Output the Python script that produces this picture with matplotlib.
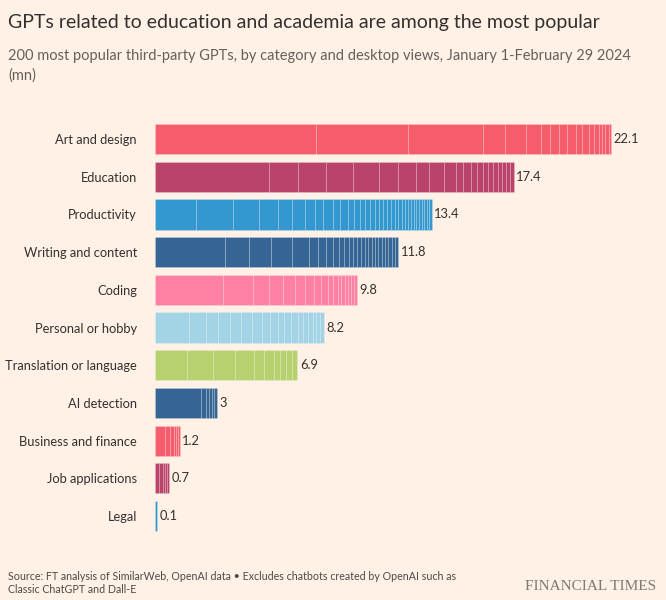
import matplotlib.pyplot as plt

# Categories (top to bottom) and the views (mn) of the individual GPTs in each
categories = ['Art and design', 'Education', 'Productivity', 'Writing and content',
              'Coding', 'Personal or hobby', 'Translation or language',
              'AI detection', 'Business and finance', 'Job applications', 'Legal']
totals = [22.1, 17.4, 13.4, 11.8, 9.8, 8.2, 6.9, 3, 1.2, 0.7, 0.1]

art = [7.8, 4.45, 3.65, 1.05, 1.05, 0.7, 0.45, 0.42, 0.42, 0.4, 0.32, 0.32,
       0.25, 0.24, 0.16, 0.16, 0.16, 0.1]
education = [5.54, 1.41, 1.33, 1.34, 1.26, 0.92, 0.84, 0.66, 0.71, 0.58, 0.35,
             0.36, 0.29, 0.29, 0.27, 0.24, 0.24, 0.21, 0.19, 0.19, 0.18]
productivity = [2.0, 1.78, 1.26, 0.94, 0.65, 0.65, 0.47, 0.42, 0.44, 0.36, 0.40,
                0.29, 0.27, 0.26, 0.23, 0.23, 0.23, 0.19, 0.19, 0.19, 0.19,
                0.16, 0.16, 0.16, 0.16, 0.13, 0.13, 0.13, 0.13, 0.13, 0.13,
                0.13, 0.11, 0.11]
writing = [3.39, 1.16, 1.07, 1.0, 0.86, 0.44, 0.37, 0.36, 0.27, 0.24, 0.24,
           0.21, 0.19, 0.19, 0.18, 0.18, 0.16, 0.16, 0.16, 0.16, 0.16, 0.16,
           0.16, 0.16, 0.17]
coding = [3.3, 1.47, 0.78, 0.68, 0.57, 0.48, 0.44, 0.34, 0.32, 0.24, 0.23,
          0.18, 0.16, 0.16, 0.15, 0.15, 0.15]
personal = [1.67, 0.78, 0.6, 0.61, 0.52, 0.53, 0.47, 0.4, 0.37, 0.32, 0.32,
            0.32, 0.29, 0.23, 0.21, 0.19, 0.19, 0.18]
translation = [1.53, 1.29, 1.05, 0.92, 0.48, 0.48, 0.32, 0.29, 0.27, 0.27]
ai_detection = [2.21, 0.26, 0.16, 0.13, 0.12, 0.12]
business = [0.48, 0.27, 0.18, 0.11, 0.1, 0.06]
jobs = [0.21, 0.16, 0.13, 0.1, 0.1]
legal = [0.1]

segments = [art, education, productivity, writing, coding, personal,
            translation, ai_detection, business, jobs, legal]
colors = ['#f55d6c', '#b9436b', '#3498d0', '#346594', '#ff80a3', '#a2d4e5',
          '#b6d16f', '#346594', '#f55d6c', '#b9436b', '#3498d0']

bg = '#fff1e5'
fig = plt.figure(figsize=(6.66, 6.0), dpi=100, facecolor=bg)
ax = fig.add_axes([0.2327, 0.1085, 0.7433, 0.6912])
ax.set_facecolor(bg)

for i, (segs, col) in enumerate(zip(segments, colors)):
    left = 0
    for v in segs:
        ax.barh(i, v, left=left, height=0.8, color=col,
                edgecolor=(1, 1, 1, 0.2), linewidth=0.6)
        left += v
    ax.text(totals[i] + 0.12, i, f'{totals[i]:g}', va='center', ha='left',
            fontsize=9.3, color='#33302e', family='Lato')

ax.set_xlim(0, 24)
ax.set_ylim(10.5, -0.5)
ax.set_yticks(range(len(categories)))
ax.set_yticklabels(categories, fontsize=9.3, color='#33302e', family='Lato')
ax.tick_params(axis='y', length=0, pad=13)
ax.set_xticks([])
for s in ax.spines.values():
    s.set_visible(False)

fig.text(0.012, 0.976, 'GPTs related to education and academia are among the most popular',
         fontsize=14, color='#33302e', family='Lato', va='top')
fig.text(0.012, 0.918, '200 most popular third-party GPTs, by category and desktop views, '
         'January 1-February 29 2024\n(mn)',
         fontsize=10.5, color='#66605c', family='Lato', va='top', linespacing=1.5)
fig.text(0.012, 0.008, 'Source: FT analysis of SimilarWeb, OpenAI data \u2022 Excludes chatbots '
         'created by OpenAI such as\nClassic ChatGPT and Dall-E',
         fontsize=7.7, color='#4d4845', family='Lato', va='bottom', linespacing=1.3)
fig.text(0.985, 0.012, 'FINANCIAL TIMES', fontsize=11, color='#807973',
         family='Liberation Serif', ha='right', va='bottom')

fig.savefig('out.png', dpi=100, facecolor=bg)
